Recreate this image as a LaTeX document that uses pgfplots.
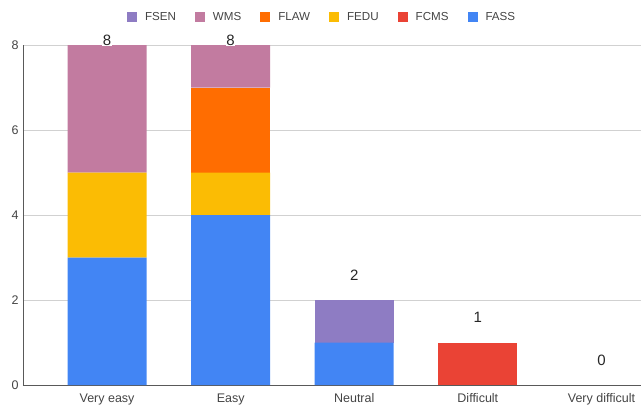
\documentclass[border=0pt]{standalone}
\usepackage{pgfplots}
\usepackage{pgfplotstable}
\pgfplotsset{compat=1.18}
\usepackage{fontspec}
\setmainfont{Liberation Sans}
\definecolor{cFASS}{HTML}{4285F4}
\definecolor{cFCMS}{HTML}{EA4335}
\definecolor{cFEDU}{HTML}{FBBC04}
\definecolor{cFLAW}{HTML}{FF6D01}
\definecolor{cWMS}{HTML}{C27BA0}
\definecolor{cFSEN}{HTML}{8E7CC3}
\definecolor{txt}{HTML}{444444}
\pgfplotstableread{
x y lab
0 8 8
1 8 8
}\hightotals
\pgfplotstableread{
x y lab
2 2 2
3 1 1
4 0 0
}\lowtotals
\begin{document}
\begin{tikzpicture}
\useasboundingbox (-23pt,-23pt) rectangle (618pt,385pt);
\begin{axis}[
  at={(0pt,0pt)}, anchor=south west,
  scale only axis, width=618pt, height=340pt,
  ybar stacked, bar width=79pt,
  xmin=-0.68, xmax=4.32, ymin=0, ymax=8,
  xtick={0,1,2,3,4},
  xticklabels={Very easy,Easy,Neutral,Difficult,Very difficult},
  ytick={0,2,4,6,8},
  ymajorgrids, grid style={draw=black!18, line width=0.6pt},
  axis x line*=bottom, axis y line*=left,
  axis line style={draw=black!65, line width=0.8pt},
  x axis line style={-}, y axis line style={-},
  tick style={draw=none},
  ticklabel style={font=\fontsize{12.5}{14}\selectfont, text=txt},
  /pgf/number format/assume math mode=true,
  yticklabel style={xshift=-1pt},
  xticklabel style={yshift=-5pt},
  clip=false,
  legend columns=-1,
  reverse legend,
  legend style={at={(0.484,1.082)}, anchor=center, draw=none, fill=none,
    font=\fontsize{11.6}{13}\selectfont, text=txt,
    /tikz/every odd column/.append style={column sep=6pt},
    /tikz/every even column/.append style={column sep=17pt}},
  legend image code/.code={\fill[#1] (0pt,-5pt) rectangle (10pt,5pt);},
]
\addplot[fill=cFASS, draw=none] coordinates {(0,3) (1,4) (2,1) (3,0) (4,0)};
\addlegendentry{FASS}
\addplot[fill=cFCMS, draw=none] coordinates {(0,0) (1,0) (2,0) (3,1) (4,0)};
\addlegendentry{FCMS}
\addplot[fill=cFEDU, draw=none] coordinates {(0,2) (1,1) (2,0) (3,0) (4,0)};
\addlegendentry{FEDU}
\addplot[fill=cFLAW, draw=none] coordinates {(0,0) (1,2) (2,0) (3,0) (4,0)};
\addlegendentry{FLAW}
\addplot[fill=cWMS, draw=none] coordinates {(0,3) (1,1) (2,0) (3,0) (4,0)};
\addlegendentry{WMS}
\addplot[fill=cFSEN, draw=none] coordinates {(0,0) (1,0) (2,1) (3,0) (4,0)};
\addlegendentry{FSEN}
\end{axis}
\begin{axis}[
  at={(0pt,0pt)}, anchor=south west,
  scale only axis, width=618pt, height=340pt,
  xmin=-0.68, xmax=4.32, ymin=0, ymax=8,
  hide axis, clip=false,
]
\addplot[only marks, mark=none,
  point meta=explicit symbolic,
  nodes near coords,
  nodes near coords style={font=\fontsize{15}{17}\selectfont, text=black!85,
    fill=white, inner sep=0.5pt, anchor=center, yshift=4.5pt}]
  table[x=x, y=y, meta=lab] {\hightotals};
\addplot[only marks, mark=none,
  point meta=explicit symbolic,
  nodes near coords,
  nodes near coords style={font=\fontsize{15}{17}\selectfont, text=black!85,
    anchor=center, yshift=25pt}]
  table[x=x, y=y, meta=lab] {\lowtotals};
\end{axis}
\end{tikzpicture}
\end{document}
